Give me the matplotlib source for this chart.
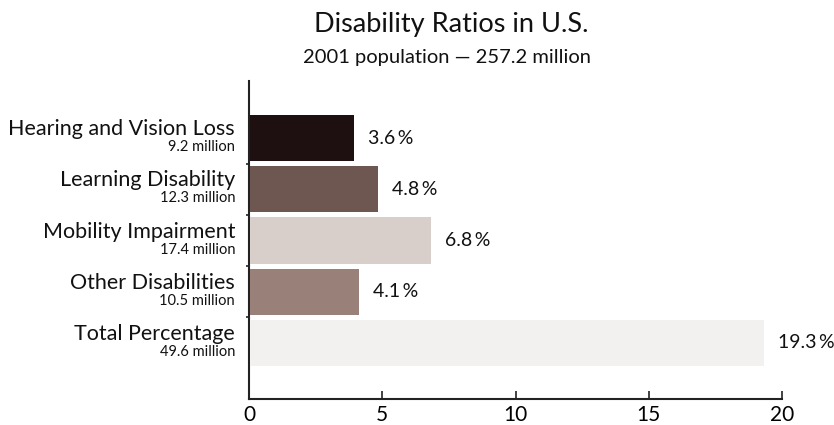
import matplotlib
matplotlib.use("Agg")
import matplotlib.pyplot as plt

plt.rcParams['font.family'] = ['Lato', 'DejaVu Sans']

categories = ["Hearing and Vision Loss", "Learning Disability", "Mobility Impairment",
              "Other Disabilities", "Total Percentage"]
populations = ["9.2 million", "12.3 million", "17.4 million", "10.5 million", "49.6 million"]
bar_values = [3.9, 4.8, 6.8, 4.1, 19.3]
value_labels = ["3.6\u2009%", "4.8\u2009%", "6.8\u2009%", "4.1\u2009%", "19.3\u2009%"]
colors = ["#1e1010", "#6d5750", "#d8cfcb", "#998079", "#f3f1ef"]
xticks = [0, 5, 10, 15, 20]

fig = plt.figure(figsize=(8.34, 4.25), dpi=100)
ax = fig.add_axes([249/834, 1-399/425, (782-249)/834, (399-81)/425])

y = list(range(len(categories)))
ax.barh(y, bar_values, height=0.9, color=colors, left=0.03, zorder=3)
ax.set_xlim(0, 20)
ax.set_ylim(4 + (399-343)/51.2, -(138-81)/51.2)

for i, (v, lab) in enumerate(zip(bar_values, value_labels)):
    ax.annotate(lab, xy=(v, i), xytext=(10.5, 0), textcoords='offset points',
                ha='left', va='center', fontsize=14, color='#111111')

ax.set_yticks([0.5, 1.5, 2.5, 3.5])
ax.set_yticklabels([])
ax.tick_params(axis='y', direction='out', length=2, width=1.2, color='#222222')
ax.set_xticks(xticks)
ax.set_xticklabels([str(t) for t in xticks], fontsize=15)
ax.tick_params(axis='x', direction='in', length=6, width=1.2, pad=4, color='#222222')
for s in ['top', 'right']:
    ax.spines[s].set_visible(False)
for s in ['left', 'bottom']:
    ax.spines[s].set_color('#222222')
    ax.spines[s].set_linewidth(1.5)

# category labels
for i, (c, p) in enumerate(zip(categories, populations)):
    yd = ax.transData.transform((0, i))[1]
    fy = yd / fig.bbox.height
    fig.text(235/834, fy + 3/425, c, ha='right', va='baseline', fontsize=15.5, color='#111111')
    fig.text(235/834, fy - 13/425, p, ha='right', va='baseline', fontsize=10.5, color='#111111')

fig.text(451/834, 1-32/425, "Disability Ratios in U.S.", ha='center', va='baseline',
         fontsize=19.5, color='#111111')
fig.text(447/834, 1-63/425, "2001 population \u2014 257.2 million", ha='center', va='baseline',
         fontsize=14.5, color='#111111')

fig.savefig("out.png", dpi=100, facecolor='white')
